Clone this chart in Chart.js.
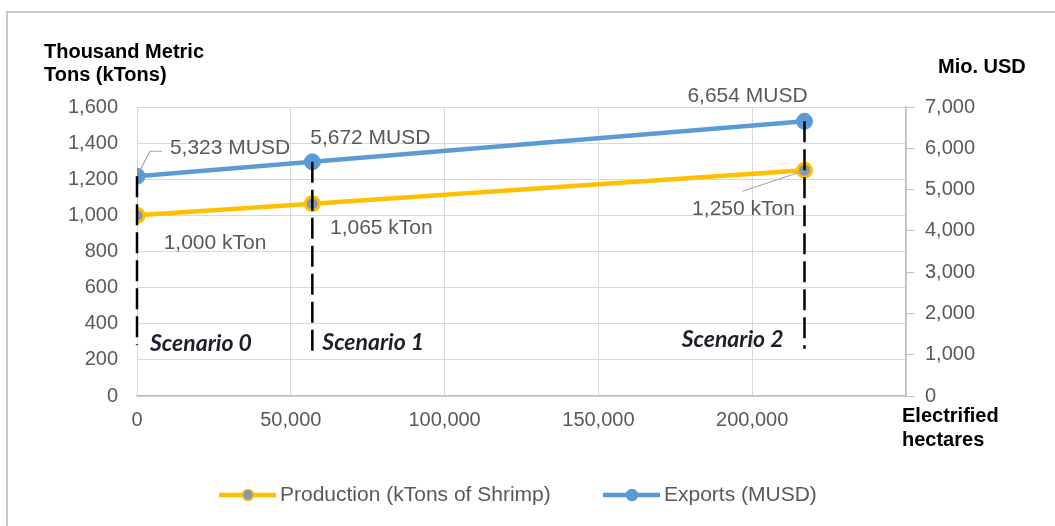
<!DOCTYPE html>
<html>
<head>
<meta charset="utf-8">
<script src="https://cdn.jsdelivr.net/npm/chart.js@4"></script>
<style>
  body { margin: 0; background: #fff; }
  #wrap { width: 1055px; height: 526px; }
</style>
</head>
<body>
<div id="wrap"><canvas id="chart" width="1055" height="526"></canvas></div>
<script>
const hectares = [0, 57000, 217000];
const production = [1000, 1065, 1250];
const exportsMusd = [5323, 5672, 6654];
const scenarios = ['Scenario 0', 'Scenario 1', 'Scenario 2'];
const seriesNames = ['Production (kTons of Shrimp)', 'Exports (MUSD)'];
const xTicks = [0, 50000, 100000, 150000, 200000, 250000];

const YELLOW = '#FFC000';
const BLUE = '#5B9BD5';
const MARKER_GREY = '#8497B0';
const TEXT_GREY = '#595959';

Chart.defaults.font.family = "'Liberation Sans', Arial, sans-serif";
Chart.defaults.font.size = 20;
Chart.defaults.color = TEXT_GREY;

const fmt = v => v.toLocaleString('en-US');

// labels, leader lines, dashed scenario markers, titles and legend
const overlay = {
  id: 'overlay',
  beforeDraw(chart) {
    const ctx = chart.ctx;
    ctx.save();
    ctx.strokeStyle = '#c9c9c9';
    ctx.lineWidth = 2;
    ctx.strokeRect(7, 12, 1200, 700);
    ctx.restore();
  },
  afterDatasetsDraw(chart) {
    const ctx = chart.ctx;
    const x = chart.scales.x, yL = chart.scales.y, yR = chart.scales.y1;
    const dashEnd = [282, 226, 262];

    ctx.save();
    // dashed verticals
    ctx.strokeStyle = '#000';
    ctx.lineWidth = 2.5;
    ctx.setLineDash([21, 7]);
    hectares.forEach((h, i) => {
      const px = x.getPixelForValue(h);
      ctx.beginPath();
      ctx.moveTo(px, yR.getPixelForValue(exportsMusd[i]));
      ctx.lineTo(px, yL.getPixelForValue(dashEnd[i]));
      ctx.stroke();
    });
    ctx.setLineDash([]);

    // leader lines
    ctx.strokeStyle = '#a6a6a6';
    ctx.lineWidth = 1.2;
    let p0x = x.getPixelForValue(hectares[0]), p0y = yR.getPixelForValue(exportsMusd[0]);
    ctx.beginPath();
    ctx.moveTo(p0x + 2, p0y - 4);
    ctx.lineTo(p0x + 13, p0y - 25);
    ctx.lineTo(p0x + 25, p0y - 25);
    ctx.stroke();
    let p2x = x.getPixelForValue(hectares[2]), p2y = yL.getPixelForValue(production[2]);
    ctx.beginPath();
    ctx.moveTo(p2x - 2, p2y + 1);
    ctx.lineTo(p2x - 62, p2y + 21);
    ctx.stroke();

    // data labels
    ctx.fillStyle = TEXT_GREY;
    ctx.font = "21px 'Liberation Sans', Arial, sans-serif";
    ctx.textAlign = 'center';
    ctx.textBaseline = 'middle';
    const expOff = [[93, -28], [58, -24], [-57, -25]];
    const prodOff = [[78, 28], [69, 25], [-61, 39]];
    hectares.forEach((h, i) => {
      const px = x.getPixelForValue(h);
      ctx.fillText(fmt(exportsMusd[i]) + ' MUSD', px + expOff[i][0], yR.getPixelForValue(exportsMusd[i]) + expOff[i][1]);
      ctx.fillText(fmt(production[i]) + ' kTon', px + prodOff[i][0], yL.getPixelForValue(production[i]) + prodOff[i][1]);
    });

    // scenario names
    ctx.fillStyle = '#1e1e2a';
    ctx.font = "italic bold 23px Lato, 'Open Sans', sans-serif";
    const scenY = [344, 343, 340];
    hectares.forEach((h, i) => {
      const px = x.getPixelForValue(h);
      if (i < 2) {
        ctx.textAlign = 'left';
        ctx.fillText(scenarios[i], px + (i === 0 ? 13 : 10), scenY[i]);
      } else {
        ctx.textAlign = 'right';
        ctx.fillText(scenarios[i], px - 21, scenY[i]);
      }
    });

    // axis titles
    ctx.fillStyle = '#000';
    ctx.font = "bold 20px 'Liberation Sans', Arial, sans-serif";
    ctx.textAlign = 'left';
    ctx.fillText('Thousand Metric', 44, 52);
    ctx.fillText('Tons (kTons)', 44, 75);
    ctx.fillText('Mio. USD', 938, 67);
    ctx.fillText('Electrified', x.right - 4, 416);
    ctx.fillText('hectares', x.right - 4, 440);

    // legend
    const legendX = [219, 603];
    const colors = [YELLOW, BLUE];
    const fills = [MARKER_GREY, BLUE];
    const ly = 495;
    ctx.font = "21px 'Liberation Sans', Arial, sans-serif";
    seriesNames.forEach((name, i) => {
      const lx = legendX[i];
      ctx.strokeStyle = colors[i];
      ctx.lineWidth = 4.5;
      ctx.beginPath();
      ctx.moveTo(lx, ly);
      ctx.lineTo(lx + 57, ly);
      ctx.stroke();
      ctx.beginPath();
      ctx.arc(lx + 29, ly, 5.5, 0, Math.PI * 2);
      ctx.fillStyle = fills[i];
      ctx.fill();
      ctx.lineWidth = 1.5;
      ctx.stroke();
      ctx.fillStyle = TEXT_GREY;
      ctx.fillText(name, lx + 61, ly);
    });
    ctx.restore();
  }
};

new Chart(document.getElementById('chart'), {
  type: 'line',
  data: {
    datasets: [
      {
        label: seriesNames[0],
        data: hectares.map((h, i) => ({ x: h, y: production[i] })),
        yAxisID: 'y',
        borderColor: YELLOW,
        borderWidth: 4.5,
        pointRadius: 7,
        pointBackgroundColor: MARKER_GREY,
        pointBorderColor: YELLOW,
        pointBorderWidth: 3,
        tension: 0
      },
      {
        label: seriesNames[1],
        data: hectares.map((h, i) => ({ x: h, y: exportsMusd[i] })),
        yAxisID: 'y1',
        borderColor: BLUE,
        borderWidth: 4.5,
        pointRadius: 8,
        pointBackgroundColor: BLUE,
        pointBorderColor: BLUE,
        pointBorderWidth: 1,
        tension: 0
      }
    ]
  },
  options: {
    responsive: false,
    animation: false,
    devicePixelRatio: 1,
    layout: { padding: { left: 37, top: 107, right: 49, bottom: 90 } },
    plugins: {
      legend: { display: false },
      tooltip: { enabled: false }
    },
    scales: {
      x: {
        type: 'linear',
        min: 0,
        max: 250000,
        afterBuildTicks: s => { s.ticks = xTicks.map(v => ({ value: v })); },
        afterFit: s => { s.height = 40; },
        ticks: {
          padding: 12,
          callback: v => (v === 250000 ? '' : fmt(v))
        },
        grid: { color: '#d9d9d9', drawTicks: false },
        border: { color: '#bfbfbf', width: 1.5 }
      },
      y: {
        position: 'left',
        min: 0,
        max: 1600,
        afterFit: s => { s.width = 100; },
        ticks: { stepSize: 200, padding: 19 },
        grid: { color: '#d9d9d9', drawTicks: false },
        border: { color: '#d9d9d9' }
      },
      y1: {
        position: 'right',
        min: 0,
        max: 7000,
        afterFit: s => { s.width = 100; },
        ticks: { stepSize: 1000, padding: 11 },
        grid: { drawOnChartArea: false, tickLength: 8, color: '#bfbfbf' },
        border: { color: '#bfbfbf', width: 1.5 }
      }
    }
  },
  plugins: [overlay]
});
</script>
</body>
</html>
